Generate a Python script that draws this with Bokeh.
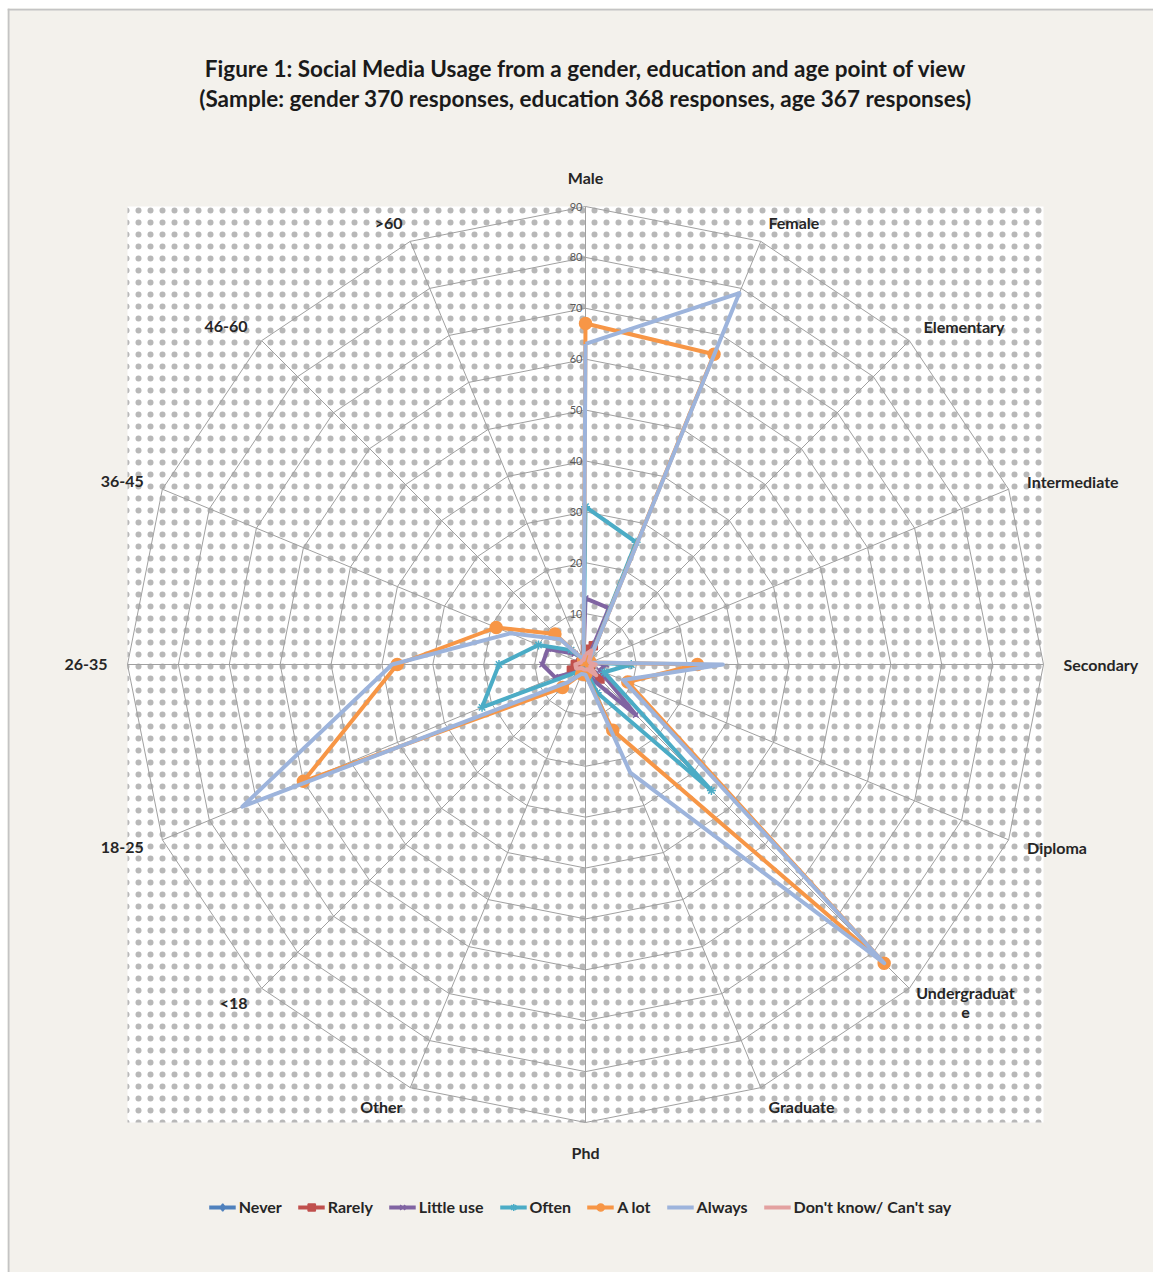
import numpy as np
from bokeh.plotting import figure
from bokeh.models import Range1d, Legend, LegendItem, Span
from bokeh.embed import file_html
from bokeh.resources import INLINE
from bokeh.core.properties import value

# ---------------- data ----------------
categories = ["Male", "Female", "Elementary", "Intermediate", "Secondary", "Diploma",
              "Undergraduate", "Graduate", "Phd", "Other", "<18", "18-25", "26-35",
              "36-45", "46-60", ">60"]
cat_labels = ["Male", "Female", "Elementary", "Intermediate", "Secondary", "Diploma",
              "Undergraduat\ne", "Graduate", "Phd", "Other", "<18", "18-25", "26-35",
              "36-45", "46-60", ">60"]

never     = [2, 3, 0, 0, 1, 1, 3, 1, 0, 1, 0, 2, 2, 1, 1, 0]
rarely    = [3, 4, 0, 0, 1, 1, 4, 1, 0, 1, 1, 3, 2, 1, 1, 0]
little    = [13, 12, 0, 1, 4, 3, 14, 3, 1, 1, 2, 6.5, 8.5, 8, 3, 1]
often     = [31, 26, 1, 1, 9, 4, 35, 6, 1, 1, 2, 22, 17, 10, 4, 1]
a_lot     = [67, 66, 1, 1, 22, 9, 83, 14, 2, 2, 6.4, 60, 37, 19, 8.5, 1]
always    = [63, 79, 1, 1, 27, 8, 83, 23, 2, 2, 5, 73, 38, 16, 7, 1]
dont_know = [2, 3, 1, 1, 2, 1, 3, 1, 1, 1, 1, 2, 2, 1, 1, 1]

series_names = ["Never", "Rarely", "Little use", "Often", "A lot", "Always",
                "Don't know/ Can't say"]
series_values = [never, rarely, little, often, a_lot, always, dont_know]
series_colors = ["#4f81bd", "#c0504d", "#8064a2", "#4bacc6", "#f79646", "#9db4dc", "#e3a1a0"]
series_markers = ["diamond", "square", "x", "asterisk", "circle", None, None]
marker_sizes = [9, 8, 8, 9, 12, 0, 0]

ticks = [0, 10, 20, 30, 40, 50, 60, 70, 80, 90]
title_lines = ["Figure 1: Social Media Usage from a gender, education and age point of view",
               "(Sample: gender 370 responses, education 368 responses, age 367 responses)"]

# ---------------- layout ----------------
W, H = 1153, 1272
CX, CY = 585, 664          # pixel centre of the radar
RMAX = 90
PX = 458 / RMAX            # pixels per unit
LB, TB = 7, 8              # outer borders

def ux(px):
    return (px - CX) / PX

def uy(py):
    return (CY - py) / PX

p = figure(width=W, height=H, output_backend="svg", toolbar_location=None,
           x_axis_location=None, y_axis_location=None,
           min_border_left=LB, min_border_top=TB, min_border_right=0, min_border_bottom=0,
           x_range=Range1d(ux(LB), ux(W)), y_range=Range1d(uy(H), uy(TB)),
           background_fill_color="#f3f1ec", border_fill_color="white",
           outline_line_color=None)
p.grid.visible = False
p.add_layout(Span(location=ux(LB + 1), dimension="height", line_color="#c4c4c4", line_width=2))
p.add_layout(Span(location=uy(TB + 1), dimension="width", line_color="#c4c4c4", line_width=2))

n = len(categories)
theta = np.deg2rad(90 - 360.0 / n * np.arange(n))
cos_t, sin_t = np.cos(theta), np.sin(theta)

# dotted plot area
p.quad(left=-RMAX, right=RMAX, bottom=-RMAX, top=RMAX, fill_color="white",
       line_color=None, hatch_pattern="dot", hatch_scale=12, hatch_weight=0.2,
       hatch_color="#000000", hatch_alpha=0.28)

# grid rings and spokes
ring_xs, ring_ys = [], []
for r in ticks[1:]:
    ring_xs.append(list(r * np.append(cos_t, cos_t[0])))
    ring_ys.append(list(r * np.append(sin_t, sin_t[0])))
for k in range(n):
    ring_xs.append([0, RMAX * cos_t[k]])
    ring_ys.append([0, RMAX * sin_t[k]])
p.multi_line(ring_xs, ring_ys, line_color="#a0a0a0", line_width=1)

# tick labels
p.text(x=[0] * len(ticks), y=ticks, text=[str(t) for t in ticks],
       x_offset=-3, text_align="right", text_baseline="middle",
       text_font=value("Lato"), text_font_size="11px", text_color="#595959")

# series
items = []
for name, vals, col, mk, ms in zip(series_names, series_values, series_colors,
                                   series_markers, marker_sizes):
    v = np.array(vals, dtype=float)
    xs = v * cos_t
    ys = v * sin_t
    rends = []
    ln = p.line(np.append(xs, xs[0]), np.append(ys, ys[0]), line_color=col,
                line_width=4, line_join="round")
    rends.append(ln)
    if mk is not None:
        sc = p.scatter(xs, ys, marker=mk, size=ms, fill_color=col, line_color=col,
                       line_width=1.5)
        rends.append(sc)
    items.append(LegendItem(label=name, renderers=rends))

# category labels
R0 = 478 / PX
lab_style = dict(text_font=value("Lato"), text_font_style="bold", text_font_size="16px",
                 text_color="#262626", text_line_height=1.0)
groups = {}
for k, lab in enumerate(cat_labels):
    c, s = cos_t[k], sin_t[k]
    xo = 0
    if "\n" in lab:
        align, base = "center", "middle"
        xo = 7.0 * len(lab.split("\n")[0]) / 2 * np.sign(c)
    elif c > 0.1:
        align, base = "left", "middle"
    elif c < -0.1:
        align, base = "right", "middle"
    else:
        align, base = "center", ("bottom" if s > 0 else "top")
    key = (align, base, xo)
    groups.setdefault(key, ([], [], []))
    groups[key][0].append(R0 * c)
    groups[key][1].append(R0 * s)
    groups[key][2].append(lab)
for (align, base, xo), (gx, gy, gt) in groups.items():
    p.text(x=gx, y=gy, text=gt, text_align=align, text_baseline=base, x_offset=xo,
           **lab_style)

# title
p.text(x=[ux(585), ux(585)], y=[uy(68), uy(98)], text=title_lines,
       text_align="center", text_baseline="middle", text_font=value("Lato"),
       text_font_style="bold", text_font_size="22.5px", text_color="#1a1a1a")

legend = Legend(items=items, orientation="horizontal", location="bottom_center",
                margin=56, padding=0, spacing=16, glyph_width=27, glyph_height=18,
                label_standoff=3, border_line_color=None, background_fill_alpha=0,
                label_text_font="Lato", label_text_font_style="bold",
                label_text_font_size="16px", label_text_color="#262626")
p.add_layout(legend)

open("out.html", "w").write(file_html(p, INLINE))
